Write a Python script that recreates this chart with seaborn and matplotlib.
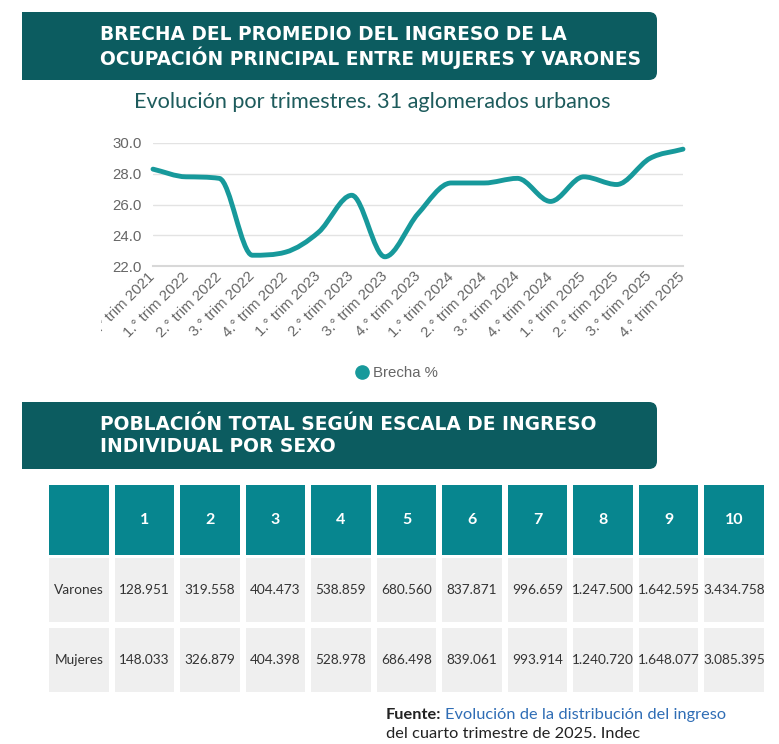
import numpy as np
import matplotlib
matplotlib.use("Agg")
import matplotlib.pyplot as plt
from matplotlib.patches import FancyBboxPatch, Rectangle, PathPatch
from matplotlib.path import Path
from matplotlib.colors import ListedColormap
from matplotlib.lines import Line2D
from matplotlib.transforms import Bbox
import seaborn as sns

sns.set_style("white")
plt.rcParams['font.family'] = ['Liberation Sans', 'DejaVu Sans']

# Data
quarters = ["4.° trim 2021",
            "1.° trim 2022", "2.° trim 2022", "3.° trim 2022", "4.° trim 2022",
            "1.° trim 2023", "2.° trim 2023", "3.° trim 2023", "4.° trim 2023",
            "1.° trim 2024", "2.° trim 2024", "3.° trim 2024", "4.° trim 2024",
            "1.° trim 2025", "2.° trim 2025", "3.° trim 2025", "4.° trim 2025"]
brecha = [28.3, 27.8, 27.7, 22.7, 22.9, 24.2, 26.6, 22.6, 25.4,
          27.4, 27.4, 27.7, 26.2, 27.8, 27.3, 29.0, 29.6]

deciles = ["1", "2", "3", "4", "5", "6", "7", "8", "9", "10"]
sexos = ["Varones", "Mujeres"]
varones = [128951, 319558, 404473, 538859, 680560, 837871, 996659, 1247500, 1642595, 3434758]
mujeres = [148033, 326879, 404398, 528978, 686498, 839061, 993914, 1240720, 1648077, 3085395]

DARK = "#0c5c60"
TEAL = "#17999b"
HEAD = "#07868f"
GRAY_CELL = "#efefef"
TXT_GRAY = "#666666"

W, H = 779, 744
fig = plt.figure(figsize=(W / 100, H / 100), dpi=100)


def rect(l, t, r, b):
    return [l / W, 1 - b / H, (r - l) / W, (b - t) / H]


# overlay in pixel units for banners and texts
bg = fig.add_axes([0, 0, 1, 1], zorder=0)
bg.set_xlim(0, W)
bg.set_ylim(H, 0)
bg.axis("off")


def banner(top, bottom, lines):
    bg.add_patch(FancyBboxPatch((22, top), 635, bottom - top,
                                boxstyle="round,pad=0,rounding_size=8",
                                fc=DARK, ec="none"))
    bg.add_patch(Rectangle((22, top), 30, bottom - top, fc=DARK, ec="none"))
    ys = np.linspace(top + 22, bottom - 22, len(lines)) if len(lines) > 1 else [(top + bottom) / 2]
    for yy, s in zip(ys, lines):
        bg.text(100, yy, s, color="white", fontsize=13.4, fontweight="bold",
                family=["DejaVu Sans"], va="center", ha="left")


banner(12, 80, ["BRECHA DEL PROMEDIO DEL INGRESO DE LA",
                "OCUPACIÓN PRINCIPAL ENTRE MUJERES Y VARONES"])
banner(402, 469, ["POBLACIÓN TOTAL SEGÚN ESCALA DE INGRESO",
                  "INDIVIDUAL POR SEXO"])

bg.text(372, 102, "Evolución por trimestres. 31 aglomerados urbanos",
        color="#1d5b5c", fontsize=15.6, family=["Lato", "DejaVu Sans"],
        ha="center", va="center")

# Line chart
ax = fig.add_axes(rect(153, 143, 683, 266), zorder=2)
x = np.arange(len(brecha))
y = np.array(brecha)

# monotone cubic bezier through the points
d = np.diff(y)
m = np.zeros_like(y)
m[0], m[-1] = d[0], d[-1]
for i in range(1, len(y) - 1):
    if d[i - 1] * d[i] > 0:
        m[i] = (d[i - 1] + d[i]) / 2
for i in range(len(d)):
    if d[i] == 0:
        m[i] = m[i + 1] = 0
        continue
    a, b = m[i] / d[i], m[i + 1] / d[i]
    s = a * a + b * b
    if s > 9:
        t = 3 / np.sqrt(s)
        m[i], m[i + 1] = t * a * d[i], t * b * d[i]
verts = [(x[0], y[0])]
codes = [Path.MOVETO]
for i in range(len(d)):
    verts += [(x[i] + 1 / 3, y[i] + m[i] / 3),
              (x[i + 1] - 1 / 3, y[i + 1] - m[i + 1] / 3),
              (x[i + 1], y[i + 1])]
    codes += [Path.CURVE4] * 3
ax.add_patch(PathPatch(Path(verts, codes), fc="none", ec=TEAL, lw=3.5,
                       capstyle="round", joinstyle="round", clip_on=False, zorder=3))

ax.set_xlim(0, len(brecha) - 1)
ax.set_ylim(22, 30)
ax.set_yticks([22, 24, 26, 28, 30])
ax.set_yticklabels([f"{v:.1f}" for v in [22, 24, 26, 28, 30]])
ax.set_xticks(x)
ax.set_xticklabels(quarters, rotation=45, ha="right", va="center",
                   rotation_mode="anchor")
ax.grid(axis="y", color="#e3e3e3", lw=1)
ax.grid(axis="x", visible=False)
for sp in ["top", "left", "right"]:
    ax.spines[sp].set_visible(False)
ax.spines["bottom"].set_color("#d8d8d8")
ax.spines["bottom"].set_linewidth(1.5)
ax.tick_params(axis="y", length=0, pad=8, labelsize=10.8, labelcolor=TXT_GRAY)
ax.tick_params(axis="x", length=4, width=1, color="#d0d0d0", pad=2,
               labelsize=10.8, labelcolor=TXT_GRAY)
ax.set_facecolor("none")
clip = Bbox.from_extents(101, 0, W, H)
for lab in ax.get_xticklabels():
    lab.set_clip_box(clip)
    lab.set_clip_on(True)

fig.legend(handles=[Line2D([], [], marker="o", ls="", color=TEAL, markersize=9.5)],
           labels=["Brecha %"], loc="center", bbox_to_anchor=(397 / W, 1 - 373 / H),
           frameon=False, handlelength=0.8, handletextpad=0.3, fontsize=10.8,
           labelcolor=TXT_GRAY)

# Table via heatmaps: header row and body rows
fmt = lambda v: f"{v:,}".replace(",", ".")
head_annot = np.array([[""] + deciles], dtype=object)
body_annot = np.array([[sexos[0]] + [fmt(v) for v in varones],
                       [sexos[1]] + [fmt(v) for v in mujeres]], dtype=object)

hax = fig.add_axes(rect(46, 482, 767, 558), zorder=2)
sns.heatmap(np.ones((1, 11)), ax=hax, cmap=ListedColormap([HEAD]), cbar=False,
            linewidths=3, linecolor="white", annot=head_annot, fmt="",
            annot_kws=dict(color="white", fontsize=11.5, fontweight="bold",
                           family=["Lato", "DejaVu Sans"]),
            xticklabels=False, yticklabels=False)
bax = fig.add_axes(rect(46, 555, 767, 695), zorder=2)
sns.heatmap(np.zeros((2, 11)), ax=bax, cmap=ListedColormap([GRAY_CELL]), cbar=False,
            linewidths=3, linecolor="white", annot=body_annot, fmt="",
            annot_kws=dict(color="#333333", fontsize=9.8, family=["Lato", "DejaVu Sans"]),
            xticklabels=False, yticklabels=False)

# Footer
ft = bg.text(386, 715, "Fuente:", fontsize=11.8, fontweight="bold", color="#222222",
             family=["Lato", "DejaVu Sans"], va="center")
fig.canvas.draw()
ext = ft.get_window_extent()
bg.text(ext.x1 + 4, 715, "Evolución de la distribución del ingreso", fontsize=11.8,
        color="#2f6db5", family=["Lato", "DejaVu Sans"], va="center")
bg.text(386, 734, "del cuarto trimestre de 2025. Indec", fontsize=11.8,
        color="#222222", family=["Lato", "DejaVu Sans"], va="center")

fig.savefig("out.png", dpi=100)
